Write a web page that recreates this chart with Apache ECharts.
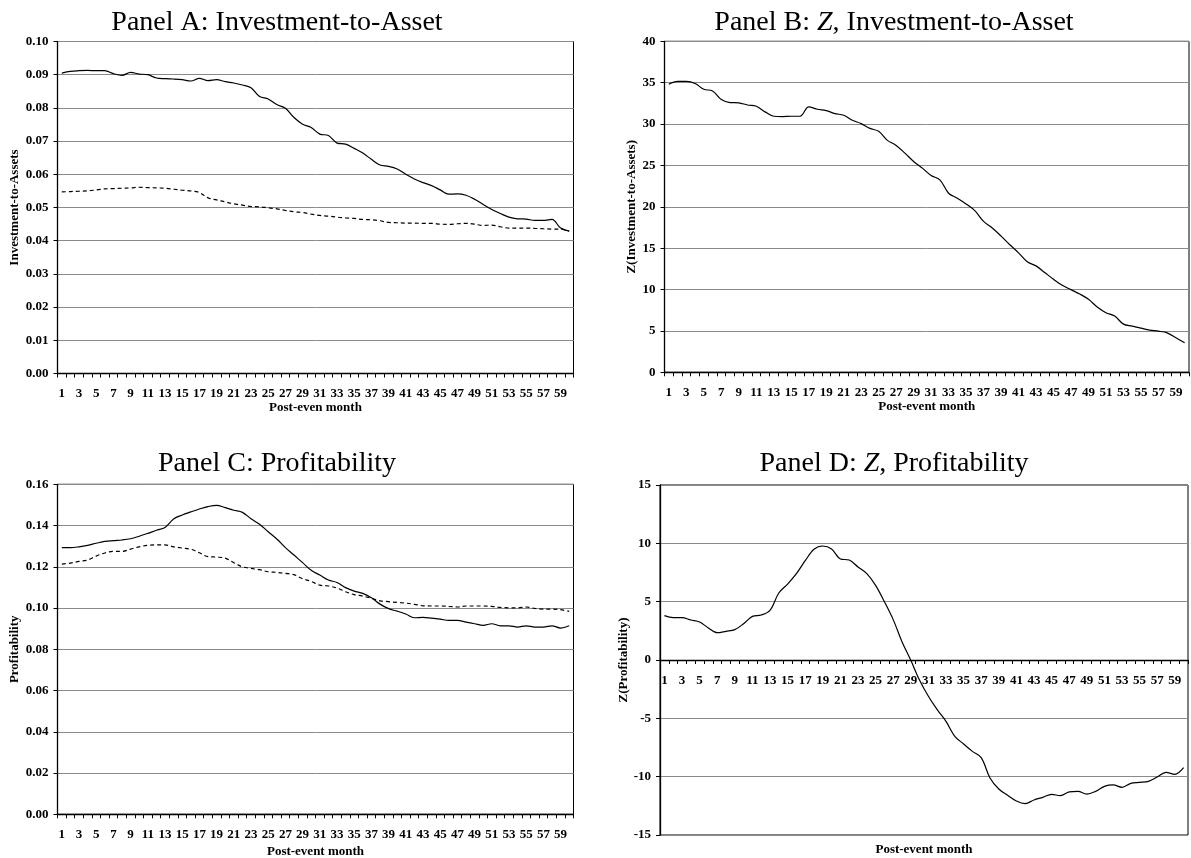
<!DOCTYPE html>
<html>
<head>
<meta charset="utf-8">
<script src="https://cdn.jsdelivr.net/npm/echarts@6/dist/echarts.min.js"></script>
<style>
html,body{margin:0;padding:0;background:#fff;}
#chart{width:1191px;height:858px;}
</style>
</head>
<body>
<div id="chart"></div>
<script>
const months = ['1','2','3','4','5','6','7','8','9','10','11','12','13','14','15','16','17','18','19','20','21','22','23','24','25','26','27','28','29','30','31','32','33','34','35','36','37','38','39','40','41','42','43','44','45','46','47','48','49','50','51','52','53','54','55','56','57','58','59','60'];

const invSolid = [0.0905,0.0910,0.0912,0.0913,0.0912,0.0912,0.0903,0.0898,0.0907,0.0902,
  0.0900,0.0890,0.0888,0.0887,0.0885,0.0881,0.0889,0.0882,0.0885,0.0879,
  0.0875,0.0869,0.0861,0.0834,0.0827,0.0810,0.0799,0.0771,0.0751,0.0741,
  0.0721,0.0717,0.0694,0.0691,0.0678,0.0664,0.0645,0.0628,0.0624,0.0616,
  0.0600,0.0586,0.0575,0.0566,0.0553,0.0540,0.0541,0.0537,0.0525,0.0509,
  0.0494,0.0482,0.0471,0.0466,0.0465,0.0461,0.0461,0.0464,0.0438,0.0429];

const invDashed = [0.0547,0.0548,0.0549,0.0550,0.0553,0.0556,0.0557,0.0558,0.0559,0.0561,
  0.0560,0.0559,0.0558,0.0555,0.0552,0.0550,0.0545,0.0529,0.0523,0.0517,
  0.0511,0.0507,0.0503,0.0502,0.0499,0.0496,0.0491,0.0487,0.0485,0.0480,
  0.0476,0.0474,0.0471,0.0469,0.0467,0.0464,0.0463,0.0460,0.0455,0.0454,
  0.0453,0.0453,0.0452,0.0452,0.0450,0.0449,0.0451,0.0452,0.0450,0.0446,
  0.0447,0.0442,0.0438,0.0438,0.0438,0.0437,0.0436,0.0435,0.0435,0.0429];

const zInv = [34.82,35.15,35.15,34.9,34.2,34.0,32.96,32.6,32.56,32.3,
  32.15,31.47,30.94,30.9,30.94,30.94,32.07,31.79,31.63,31.26,
  31.06,30.45,30.05,29.48,29.12,28.03,27.42,26.49,25.48,24.67,
  23.78,23.26,21.64,21.03,20.34,19.53,18.24,17.43,16.46,15.41,
  14.44,13.35,12.86,12.05,11.24,10.52,9.99,9.46,8.82,7.89,
  7.2,6.79,5.82,5.58,5.34,5.1,4.97,4.77,4.17,3.56];

const profSolid = [0.1293,0.1293,0.1297,0.1304,0.1314,0.1323,0.1327,0.1330,0.1336,0.1348,
  0.1362,0.1377,0.1391,0.1432,0.1451,0.1466,0.1480,0.1492,0.1498,0.1487,
  0.1474,0.1464,0.1433,0.1406,0.1370,0.1335,0.1293,0.1257,0.1220,0.1183,
  0.1160,0.1136,0.1124,0.1099,0.1082,0.1071,0.1050,0.1019,0.0997,0.0985,
  0.0971,0.0953,0.0955,0.0951,0.0946,0.0940,0.0940,0.0932,0.0924,0.0916,
  0.0924,0.0914,0.0914,0.0908,0.0914,0.0908,0.0908,0.0914,0.0903,0.0914];

const profDashed = [0.1213,0.1218,0.1226,0.1233,0.1252,0.1267,0.1275,0.1275,0.1286,0.1297,
  0.1304,0.1306,0.1306,0.1297,0.1291,0.1285,0.1268,0.1249,0.1247,0.1242,
  0.1220,0.1200,0.1192,0.1186,0.1176,0.1173,0.1168,0.1162,0.1142,0.1129,
  0.1111,0.1107,0.1097,0.1079,0.1065,0.1058,0.1047,0.1035,0.1031,0.1027,
  0.1024,0.1018,0.1011,0.1010,0.1010,0.1008,0.1005,0.1010,0.1010,0.1010,
  0.1008,0.1003,0.1001,0.1001,0.1005,0.0998,0.0995,0.0995,0.0992,0.0984];

const zProf = [3.8,3.63,3.63,3.43,3.26,2.74,2.34,2.46,2.6,3.11,
  3.74,3.86,4.26,5.74,6.51,7.4,8.51,9.49,9.77,9.51,
  8.66,8.57,7.97,7.4,6.4,5.0,3.46,1.57,-0.03,-1.74,
  -3.11,-4.26,-5.26,-6.54,-7.2,-7.83,-8.37,-10.11,-11.06,-11.6,
  -12.09,-12.31,-12.0,-11.77,-11.51,-11.63,-11.31,-11.26,-11.49,-11.26,
  -10.83,-10.71,-10.91,-10.57,-10.49,-10.4,-10.03,-9.63,-9.8,-9.23];

const panelTitles = ['Panel A: Investment-to-Asset', 'Panel B: {i|Z}, Investment-to-Asset', 'Panel C: Profitability', 'Panel D: {i|Z}, Profitability'];
const yNames = ['Investment-to-Assets', 'Z(Investment-to-Assets)', 'Profitability', 'Z(Profitability)'];
const xNames = ['Post-even month', 'Post-event month', 'Post-event month', 'Post-event month'];

const FONT = '"Liberation Serif", "Times New Roman", serif';
const TITLE_FONT = '"Liberation Serif", serif';

const grids = [
  {left: 57.5, top: 41.5, width: 516, height: 332},
  {left: 664.5, top: 41.3, width: 524.5, height: 331},
  {left: 57.5, top: 484.3, width: 516, height: 330},
  {left: 660, top: 485, width: 528, height: 350}
];
const yRanges = [
  {min: 0, max: 0.10, interval: 0.01, dec: 2},
  {min: 0, max: 40, interval: 5, dec: 0},
  {min: 0, max: 0.16, interval: 0.02, dec: 2},
  {min: -15, max: 15, interval: 5, dec: 0}
];
const yNameGaps = [36, 26, 36, 21];
const xNameGaps = [27, 28, 31, 183];
// panel D's category axis sits on the zero line (half the plot height above the bottom edge)
const xOffsets = [0, 0, 0, -175];
const titlePos = [[277, 23], [894, 23], [277, 464], [894, 464]];

const xAxes = grids.map((g, i) => ({
  type: 'category',
  gridIndex: i,
  data: months,
  boundaryGap: true,
  position: 'bottom',
  offset: xOffsets[i],
  axisLine: {show: true, onZero: false, lineStyle: {color: '#000', width: 1.3}},
  axisTick: {show: true, interval: 0, length: 4, inside: false, lineStyle: {color: '#000'}},
  axisLabel: {interval: 1, margin: 14, color: '#000', fontFamily: FONT, fontWeight: 'bold', fontSize: 13},
  splitLine: {show: false},
  name: xNames[i],
  nameLocation: 'middle',
  nameGap: xNameGaps[i],
  nameTextStyle: {color: '#000', fontFamily: FONT, fontWeight: 'bold', fontSize: 13}
}));

const yAxes = grids.map((g, i) => ({
  type: 'value',
  gridIndex: i,
  min: yRanges[i].min,
  max: yRanges[i].max,
  interval: yRanges[i].interval,
  axisLine: {show: true, onZero: false, lineStyle: {color: '#000', width: 1.3}},
  axisTick: {show: true, length: 4, lineStyle: {color: '#000'}},
  axisLabel: {margin: 9, color: '#000', fontFamily: FONT, fontWeight: 'bold', fontSize: 13,
    formatter: v => v.toFixed(yRanges[i].dec)},
  splitLine: {show: true, lineStyle: {color: '#8a8a8a', width: 1}},
  name: yNames[i],
  nameLocation: 'middle',
  nameRotate: 90,
  nameGap: yNameGaps[i],
  nameTextStyle: {color: '#000', fontFamily: FONT, fontWeight: 'bold', fontSize: 13}
}));

function lineSeries(idx, data, dashed) {
  return {
    type: 'line',
    xAxisIndex: idx,
    yAxisIndex: idx,
    data: data,
    showSymbol: false,
    smooth: 0.35,
    lineStyle: {color: '#000', width: 1.2, type: dashed ? [4, 3] : 'solid'},
    z: 5
  };
}

const graphics = titlePos.map((p, i) => ({
  type: 'text',
  x: p[0],
  y: p[1],
  style: {
    text: panelTitles[i],
    textAlign: 'center',
    textVerticalAlign: 'middle',
    fill: '#000',
    font: '28px ' + TITLE_FONT,
    rich: {i: {fontStyle: 'italic', fontFamily: TITLE_FONT, fontSize: 28, fill: '#000'}}
  }
}));

const chart = echarts.init(document.getElementById('chart'), null, {renderer: 'canvas'});
chart.setOption({
  animation: false,
  backgroundColor: '#fff',
  grid: grids.map(g => Object.assign({show: true, borderColor: '#000', borderWidth: 1, backgroundColor: 'transparent', containLabel: false, outerBoundsMode: 'none'}, g)),
  xAxis: xAxes,
  yAxis: yAxes,
  graphic: graphics,
  series: [
    lineSeries(0, invSolid, false),
    lineSeries(0, invDashed, true),
    lineSeries(1, zInv, false),
    lineSeries(2, profSolid, false),
    lineSeries(2, profDashed, true),
    lineSeries(3, zProf, false)
  ]
});
</script>
</body>
</html>
